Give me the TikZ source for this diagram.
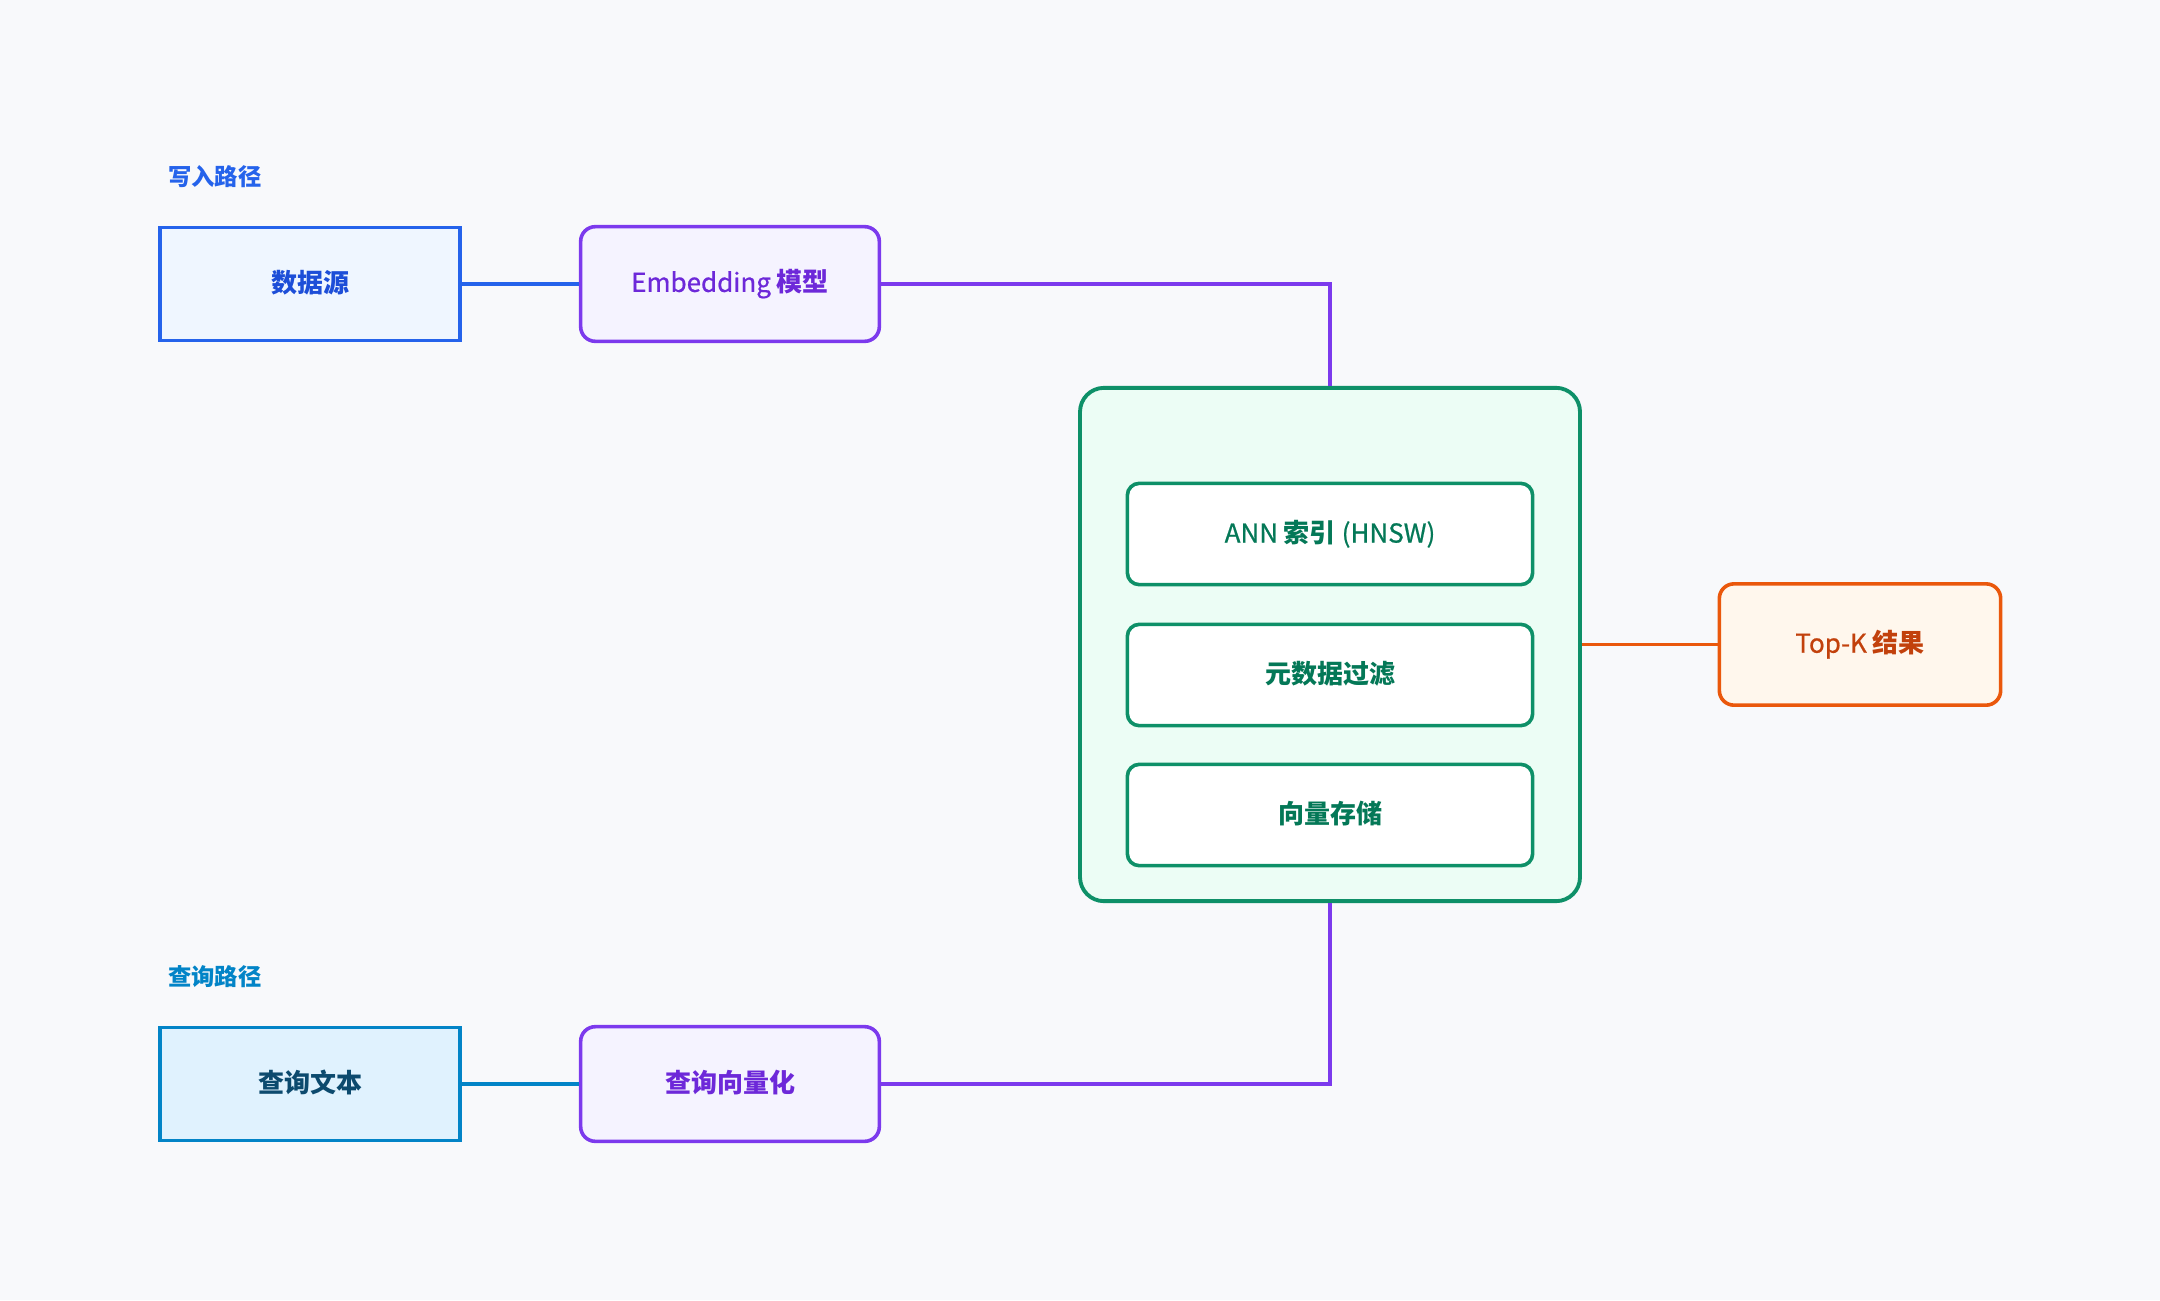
\documentclass[tikz,border=0pt]{standalone}
\usepackage{fontspec}
\setmainfont{Noto Sans CJK SC}
\newfontfamily\latmed{Noto Sans CJK SC}[FakeBold=0.7]
\definecolor{bg}{HTML}{F8F9FB}
\definecolor{blueB}{HTML}{2563EB}
\definecolor{blueF}{HTML}{EFF6FF}
\definecolor{blueT}{HTML}{1D4ED8}
\definecolor{purB}{HTML}{7C3AED}
\definecolor{purF}{HTML}{F5F3FF}
\definecolor{purT}{HTML}{6D28D9}
\definecolor{grnB}{HTML}{0E9068}
\definecolor{grnF}{HTML}{ECFDF5}
\definecolor{grnT}{HTML}{047857}
\definecolor{orgB}{HTML}{EA580C}
\definecolor{orgF}{HTML}{FFF7ED}
\definecolor{orgT}{HTML}{C2410C}
\definecolor{skyB}{HTML}{0284C7}
\definecolor{skyF}{HTML}{E0F2FE}
\definecolor{skyT}{HTML}{0C4A6E}
\tikzset{
  every node/.style={font=\fontsize{19.5pt}{23pt}\selectfont},
  pathlabel/.style={anchor=west, font=\fontsize{17.5pt}{21pt}\selectfont\bfseries, inner sep=0pt},
  srcbox/.style={draw, line width=2.7pt, minimum width=225pt, minimum height=85pt, inner sep=0pt},
  procbox/.style={draw=purB, fill=purF, text=purT, line width=2.7pt, rounded corners=11pt, minimum width=224pt, minimum height=86pt, inner sep=0pt},
  contbox/.style={draw=grnB, fill=grnF, line width=2.9pt, rounded corners=18pt, minimum width=375pt, minimum height=385pt, inner sep=0pt},
  innerbox/.style={draw=grnB, fill=white, text=grnT, line width=2.7pt, rounded corners=9pt, minimum width=304pt, minimum height=76pt, inner sep=0pt},
  resbox/.style={draw=orgB, fill=orgF, text=orgT, line width=2.7pt, rounded corners=11pt, minimum width=211pt, minimum height=91pt, inner sep=0pt},
  conn/.style={line width=2.8pt}
}
\begin{document}
\begin{tikzpicture}[x=0.75pt,y=-0.75pt]
\fill[bg] (0,0) rectangle (2160,1300);
\useasboundingbox (0,0) rectangle (2160,1300);

\node[pathlabel, text=blueB] (lw) at (168,177) {写入路径};
\node[srcbox, draw=blueB, fill=blueF, text=blueT] (ds) at (310,284) {\raisebox{3.5pt}{\bfseries 数据源}};
\node[procbox] (emb) at (730,284) {\raisebox{3.5pt}{{\latmed Embedding} \bfseries 模型}};

\node[contbox] (cont) at (1330,644.5) {};
\node[innerbox] (ann) at (1330,534) {\raisebox{3.5pt}{{\latmed ANN} \textbf{索引} {\latmed (HNSW)}}};
\node[innerbox] (meta) at (1330,675) {\raisebox{3.5pt}{\bfseries 元数据过滤}};
\node[innerbox] (vst) at (1330,815) {\raisebox{3.5pt}{\bfseries 向量存储}};

\node[resbox] (topk) at (1860,644.5) {\raisebox{3.5pt}{{\latmed Top-K} \bfseries 结果}};

\node[pathlabel, text=skyB] (lq) at (168,977) {查询路径};
\node[srcbox, draw=skyB, fill=skyF, text=skyT] (qt) at (310,1084) {\raisebox{3.5pt}{\bfseries 查询文本}};
\node[procbox] (qv) at (730,1084) {\raisebox{3.5pt}{\bfseries 查询向量化}};

\draw[conn, blueB] (ds) -- (emb);
\draw[conn, purB] (emb.east) -| (cont.north);
\draw[conn, skyB] (qt) -- (qv);
\draw[conn, purB] (qv.east) -| (cont.south);
\draw[conn, orgB] (cont.east) -- (topk.west);
\end{tikzpicture}
\end{document}
